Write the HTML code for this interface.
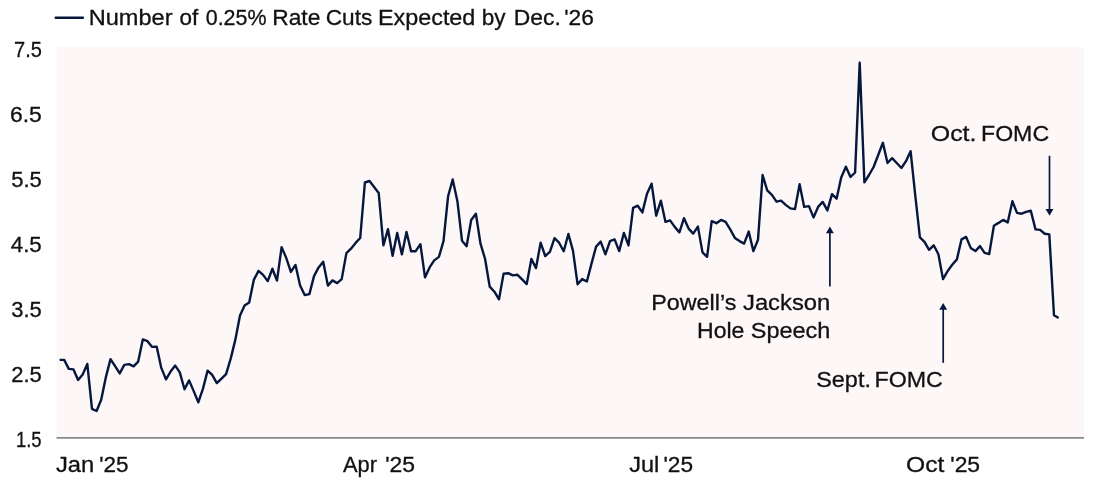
<!DOCTYPE html>
<html lang="en"><head><meta charset="utf-8"><title>Rate Cuts Expected</title>
<style>
html,body{margin:0;padding:0;background:#ffffff;}
body{width:1102px;height:481px;overflow:hidden;}
svg{display:block;font-family:"Liberation Sans", sans-serif;}
text{fill:#111111;stroke:#111111;stroke-width:0.3px;font-size:22px;}
</style></head><body>
<svg width="1102" height="481" viewBox="0 0 1102 481">
<rect id="bg" x="0" y="0" width="1102" height="481" fill="#ffffff"/>
<rect id="plot" x="56.5" y="46.7" width="1027.5" height="391.2" fill="#fdf8f7"/>
<line id="axis" x1="56.5" y1="437.9" x2="1084" y2="437.9" stroke="#8a8a8a" stroke-width="1.6"/>
<line id="leg" x1="55.7" y1="17.7" x2="82.9" y2="17.7" stroke="#06173e" stroke-width="2.4" stroke-linecap="round"/>

<text id="legend" y="24.9"><tspan id="l1" x="88.75" textLength="83.79" lengthAdjust="spacingAndGlyphs">Number</tspan> <tspan id="l2" x="179.50" textLength="18.77" lengthAdjust="spacingAndGlyphs">of</tspan> <tspan id="l3" x="205.75" textLength="60.78" lengthAdjust="spacingAndGlyphs">0.25%</tspan> <tspan id="l4" x="272.25" textLength="48.13" lengthAdjust="spacingAndGlyphs">Rate</tspan> <tspan id="l5" x="325.75" textLength="46.56" lengthAdjust="spacingAndGlyphs">Cuts</tspan> <tspan id="l6" x="378.00" textLength="97.34" lengthAdjust="spacingAndGlyphs">Expected</tspan> <tspan id="l7" x="481.75" textLength="23.81" lengthAdjust="spacingAndGlyphs">by</tspan> <tspan id="l8" x="513.75" textLength="47.04" lengthAdjust="spacingAndGlyphs">Dec.</tspan> <tspan id="l9" x="564.25" textLength="29.62" lengthAdjust="spacingAndGlyphs">&#39;26</tspan></text>
<text id="y75" y="56.9"><tspan id="y1" x="14.00" textLength="27.84" lengthAdjust="spacingAndGlyphs">7.5</tspan></text>
<text id="y65" y="121.8"><tspan id="y2" x="10.00" textLength="31.86" lengthAdjust="spacingAndGlyphs">6.5</tspan></text>
<text id="y55" y="186.8"><tspan id="y3" x="11.25" textLength="30.58" lengthAdjust="spacingAndGlyphs">5.5</tspan></text>
<text id="y45" y="251.8"><tspan id="y4" x="10.75" textLength="31.04" lengthAdjust="spacingAndGlyphs">4.5</tspan></text>
<text id="y35" y="316.8"><tspan id="y5" x="11.25" textLength="30.58" lengthAdjust="spacingAndGlyphs">3.5</tspan></text>
<text id="y25" y="381.8"><tspan id="y6" x="11.25" textLength="30.60" lengthAdjust="spacingAndGlyphs">2.5</tspan></text>
<text id="y15" y="447.0"><tspan id="y7" x="16.00" textLength="25.62" lengthAdjust="spacingAndGlyphs">1.5</tspan></text>
<text id="xjan" y="472.2"><tspan id="x1a" x="56.00" textLength="38.30" lengthAdjust="spacingAndGlyphs">Jan</tspan> <tspan id="x1b" x="99.25" textLength="29.35" lengthAdjust="spacingAndGlyphs">&#39;25</tspan></text>
<text id="xapr" y="472.2"><tspan id="x2a" x="343.00" textLength="34.00" lengthAdjust="spacingAndGlyphs">Apr</tspan> <tspan id="x2b" x="385.25" textLength="29.85" lengthAdjust="spacingAndGlyphs">&#39;25</tspan></text>
<text id="xjul" y="472.2"><tspan id="x3a" x="629.25" textLength="30.08" lengthAdjust="spacingAndGlyphs">Jul</tspan> <tspan id="x3b" x="663.50" textLength="29.60" lengthAdjust="spacingAndGlyphs">&#39;25</tspan></text>
<text id="xoct" y="472.2"><tspan id="x4a" x="906.00" textLength="38.27" lengthAdjust="spacingAndGlyphs">Oct</tspan> <tspan id="x4b" x="950.25" textLength="29.87" lengthAdjust="spacingAndGlyphs">&#39;25</tspan></text>
<text id="ann1a" y="310.1"><tspan id="a1a" x="651.25" textLength="85.07" lengthAdjust="spacingAndGlyphs">Powell’s</tspan> <tspan id="a1b" x="743.00" textLength="87.28" lengthAdjust="spacingAndGlyphs">Jackson</tspan></text>
<text id="ann1b" y="337.6"><tspan id="a2a" x="697.00" textLength="47.38" lengthAdjust="spacingAndGlyphs">Hole</tspan> <tspan id="a2b" x="750.75" textLength="79.57" lengthAdjust="spacingAndGlyphs">Speech</tspan></text>
<text id="ann2" y="386.8"><tspan id="a3a" x="816.25" textLength="54.65" lengthAdjust="spacingAndGlyphs">Sept.</tspan> <tspan id="a3b" x="874.50" textLength="68.33" lengthAdjust="spacingAndGlyphs">FOMC</tspan></text>
<text id="ann3" y="140.5"><tspan id="a4a" x="930.75" textLength="45.71" lengthAdjust="spacingAndGlyphs">Oct.</tspan> <tspan id="a4b" x="981.00" textLength="68.08" lengthAdjust="spacingAndGlyphs">FOMC</tspan></text>
<polyline id="series" points="59.6,359.9 64.2,359.9 68.8,368.9 73.5,369.4 78.1,379.9 82.7,374.4 87.3,363.9 92.0,408.8 96.6,411.0 101.2,399.8 105.8,377.4 110.5,359.1 115.1,366.1 119.7,373.4 124.3,364.9 129.0,364.1 133.6,366.4 138.2,361.6 142.8,339.4 147.5,341.2 152.1,346.9 156.7,346.7 161.3,367.9 166.0,379.4 170.6,371.6 175.2,365.6 179.8,372.4 184.5,389.3 189.1,380.4 193.7,391.1 198.3,402.3 203.0,388.6 207.6,370.6 212.2,374.9 216.8,383.1 221.5,378.6 226.1,374.1 230.7,358.6 235.3,339.9 240.0,315.5 244.6,305.5 249.2,302.5 253.8,279.9 258.5,270.9 263.1,274.9 267.7,281.1 272.4,268.7 277.0,280.6 281.6,247.1 286.2,257.9 290.9,271.9 295.5,264.9 300.1,285.6 304.7,295.1 309.4,294.1 314.0,276.1 318.6,267.4 323.2,261.7 327.9,285.6 332.5,280.4 337.1,283.1 341.7,279.1 346.4,253.2 351.0,248.7 355.6,242.9 360.2,238.0 364.9,182.5 369.5,181.0 374.1,187.0 378.7,193.0 383.4,245.4 388.0,229.2 392.6,255.7 397.2,233.0 401.9,254.4 406.5,232.0 411.1,251.2 415.7,251.2 420.4,244.2 425.0,277.4 429.6,267.4 434.2,260.4 438.9,256.9 443.5,241.2 448.1,196.2 452.7,179.5 457.4,201.2 462.0,240.7 466.6,246.2 471.2,220.0 475.9,213.7 480.5,243.7 485.1,259.0 489.7,286.6 494.4,291.7 499.0,299.3 503.6,273.6 508.2,273.2 512.9,275.4 517.5,274.8 522.1,279.4 526.7,284.1 531.4,259.0 536.0,268.1 540.6,242.7 545.2,256.0 549.9,251.8 554.5,238.2 559.1,242.7 563.7,251.2 568.4,234.0 573.0,250.9 577.6,284.3 582.2,279.1 586.9,281.5 591.5,263.6 596.1,246.6 600.7,241.6 605.4,254.3 610.0,241.1 614.6,239.4 619.2,251.1 623.9,232.9 628.5,245.4 633.1,207.9 637.7,205.7 642.4,212.4 647.0,193.7 651.6,183.7 656.2,215.7 660.9,200.7 665.5,221.9 670.1,220.4 674.7,226.9 679.4,232.4 684.0,218.2 688.6,228.6 693.2,233.6 697.9,226.6 702.5,252.4 707.1,256.8 711.7,221.2 716.4,223.2 721.0,219.9 725.6,221.9 730.2,229.4 734.9,237.9 739.5,241.1 744.1,243.6 748.7,231.6 753.4,251.1 758.0,239.8 762.6,175.0 767.2,190.4 771.9,194.9 776.5,201.7 781.1,200.7 785.7,204.9 790.4,208.4 795.0,209.1 799.6,184.2 804.2,206.9 808.9,206.1 813.5,217.4 818.1,206.9 822.7,201.9 827.4,210.4 832.0,194.2 836.6,198.7 841.2,177.5 845.9,166.7 850.5,177.0 855.1,172.5 859.7,62.7 864.4,182.4 869.0,175.0 873.6,167.0 878.2,155.0 882.9,142.8 887.5,163.0 892.1,158.2 896.7,163.0 901.4,168.0 906.0,161.2 910.6,151.2 915.2,194.9 919.9,237.3 924.5,241.8 929.1,249.8 933.7,245.3 938.4,254.3 943.0,279.1 947.6,271.1 952.2,264.8 956.9,259.4 961.5,239.4 966.1,236.9 970.7,247.9 975.4,251.1 980.0,246.1 984.6,252.9 989.2,254.1 993.9,225.7 998.5,222.9 1003.1,219.9 1007.7,222.4 1012.4,201.2 1017.0,212.9 1021.6,213.7 1026.2,211.9 1030.8,210.7 1035.5,229.4 1040.1,229.9 1044.7,233.7 1049.3,234.4 1054.0,315.3 1058.6,318.0" fill="none" stroke="#06173e" stroke-width="2.4" stroke-linejoin="round" stroke-linecap="butt"/>
<g id="arrows">
<line x1="829.9" y1="286.5" x2="829.9" y2="232.3" stroke="#06173e" stroke-width="1.7"/><polygon points="825.9499999999999,233.3 833.85,233.3 829.9,226.5" fill="#06173e"/>
<line x1="943.2" y1="362.8" x2="943.2" y2="308.8" stroke="#06173e" stroke-width="1.7"/><polygon points="939.25,309.8 947.1500000000001,309.8 943.2,303.0" fill="#06173e"/>
<line x1="1049.5" y1="155.8" x2="1049.5" y2="209.89999999999998" stroke="#06173e" stroke-width="1.7"/><polygon points="1045.55,208.89999999999998 1053.45,208.89999999999998 1049.5,215.7" fill="#06173e"/>
</g>
</svg></body></html>
